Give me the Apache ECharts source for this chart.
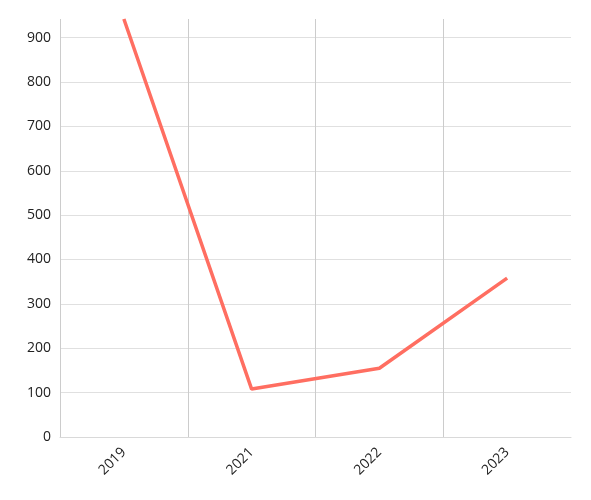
<!DOCTYPE html>
<html><head><meta charset="utf-8">
<script src="https://cdn.jsdelivr.net/npm/echarts@6/dist/echarts.min.js"></script>
<style>html,body{margin:0;padding:0;background:#fff}#c{width:591px;height:500px}</style>
</head><body><div id="c"></div>
<script>
var categories = ['2019', '2021', '2022', '2023'];
var values = [942, 108, 155, 358];
var yTicks = [0, 100, 200, 300, 400, 500, 600, 700, 800, 900];

var chart = echarts.init(document.getElementById('c'));
chart.setOption({
  animation: false,
  textStyle: { fontFamily: 'Open Sans' },
  grid: { left: 60, right: 20, top: 19, bottom: 63 },
  xAxis: {
    type: 'category',
    data: categories,
    boundaryGap: true,
    axisLine: { lineStyle: { color: '#d9d9d9' } },
    axisTick: { show: false },
    axisLabel: { rotate: 45, color: '#222', fontSize: 14, margin: 13 },
    splitLine: { show: true, showMaxLine: false, lineStyle: { color: '#ccc' } }
  },
  yAxis: {
    type: 'value',
    min: 0,
    max: 'dataMax',
    interval: 100,
    axisLine: { show: false },
    axisTick: { show: false },
    axisLabel: { color: '#222', fontSize: 14, margin: 9,
      formatter: function (v) { return yTicks.indexOf(v) >= 0 ? String(v) : ''; } },
    splitLine: { showMaxLine: false, lineStyle: { color: '#e0e0e0' } }
  },
  series: [{
    type: 'line',
    data: values,
    showSymbol: false,
    lineStyle: { color: '#ff6e61', width: 3.5 },
    itemStyle: { color: '#ff6e61' }
  }]
});
</script></body></html>
